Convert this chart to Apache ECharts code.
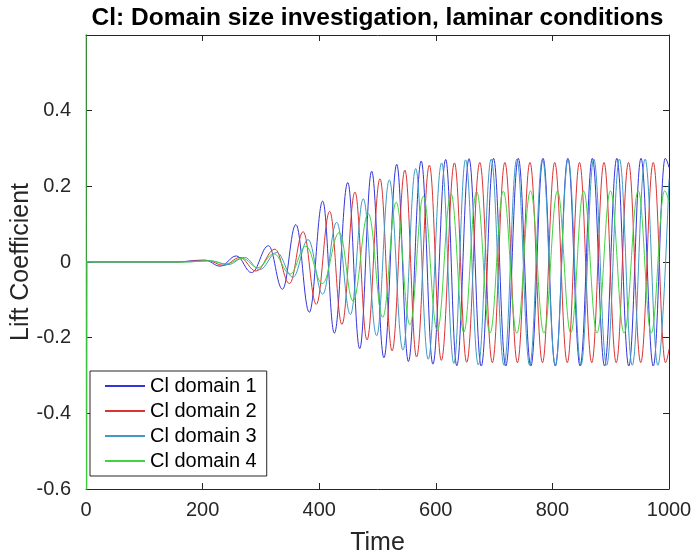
<!DOCTYPE html>
<html><head><meta charset="utf-8">
<script src="https://cdn.jsdelivr.net/npm/echarts@6/dist/echarts.min.js"></script>
<style>html,body{margin:0;padding:0;background:#fff}#c{width:693px;height:553px}</style>
</head><body><div id="c"></div>
<script>
const titleText = 'Cl: Domain size investigation, laminar conditions';
const xName = 'Time';
const yName = 'Lift Coefficient';
const seriesNames = ['Cl domain 1', 'Cl domain 2', 'Cl domain 3', 'Cl domain 4'];
const xTicks = [0, 200, 400, 600, 800, 1000];
const yTicks = [-0.6, -0.4, -0.2, 0, 0.2, 0.4];

// extrema: [time, Cl]
const domain1 = [[0,0],[150,0],[204,0.005],[230,-0.011],[258,0.016],[284,-0.028],[313,0.043],[337,-0.072],[360,0.099],[383,-0.133],[406,0.161],[426,-0.188],[449,0.21],[469.5,-0.229],[490,0.24],[511,-0.253],[533,0.258],[553,-0.263],[575,0.267],[595,-0.27],[617,0.271],[636,-0.274],[657,0.273],[678,-0.275],[699,0.274],[720,-0.275],[741.5,0.274],[763,-0.275],[784,0.274],[805,-0.275],[826.5,0.274],[847.5,-0.275],[868.5,0.274],[889.5,-0.275],[910.5,0.274],[931,-0.275],[952,0.274],[973,-0.275],[993.5,0.274],[1000,0.25]];
const domain2 = [[0,0],[150,0],[208,0.004],[236,-0.009],[264,0.012],[291.5,-0.024],[324,0.034],[349,-0.057],[372.5,0.08],[395,-0.112],[418,0.134],[439,-0.165],[461.4,0.185],[482,-0.206],[504.3,0.22],[525,-0.235],[547,0.243],[567,-0.251],[589,0.256],[609.5,-0.26],[632,0.262],[653,-0.265],[675.5,0.263],[697,-0.266],[718.5,0.263],[740,-0.266],[761.5,0.263],[783,-0.266],[804,0.263],[825.5,-0.266],[846.5,0.263],[867.5,-0.266],[888.5,0.263],[909.5,-0.266],[930.5,0.263],[951.5,-0.266],[973,0.263],[994,-0.266],[1000,-0.23]];
const domain3 = [[0,0],[160,0],[215,0.003],[243,-0.007],[272,0.012],[298,-0.02],[327,0.025],[355,-0.04],[381,0.059],[406,-0.085],[430,0.105],[453.5,-0.139],[475.6,0.167],[498.5,-0.195],[520.2,0.217],[543.7,-0.233],[565.5,0.247],[587,-0.257],[610,0.262],[631,-0.268],[651,0.27],[673,-0.272],[695,0.272],[717,-0.273],[739,0.272],[761,-0.273],[783,0.272],[805,-0.273],[827,0.272],[849,-0.273],[871,0.272],[893,-0.273],[915,0.272],[937,-0.273],[959,0.272],[981,-0.273],[1000,0.22]];
const domain4 = [[0,0.95],[1,-0.95],[2,0],[170,0],[212,0.003],[240,-0.005],[268,0.01],[295,-0.015],[322,0.022],[350,-0.032],[377,0.042],[405.5,-0.057],[434.6,0.078],[458,-0.103],[484.2,0.128],[509,-0.146],[532,0.158],[555.7,-0.166],[578.6,0.174],[602.6,-0.181],[626,0.181],[648,-0.186],[670,0.186],[693,-0.188],[715.7,0.187],[739,-0.188],[762.5,0.188],[785.5,-0.188],[808.7,0.188],[831.5,-0.188],[853.5,0.188],[876.5,-0.188],[899.5,0.188],[923,-0.188],[947.3,0.188],[969.5,-0.188],[992.5,0.188],[1000,0.16]];

const seriesData = [domain1, domain2, domain3, domain4];
const colors = ['#3434dc', '#dc3434', '#3f9ac6', '#40d440'];

const FONT = '"Liberation Sans", Arial, Helvetica, sans-serif';
const AX = '#262626';

const chart = echarts.init(document.getElementById('c'), null, {renderer: 'canvas'});

const baseX = {
  type: 'value', min: xTicks[0], max: xTicks[xTicks.length - 1], interval: xTicks[1] - xTicks[0],
  axisLine: {show: true, onZero: false, lineStyle: {color: AX, width: 1}},
  axisTick: {show: true, inside: true, length: 6, lineStyle: {color: AX}},
  splitLine: {show: false}
};
const baseY = {
  type: 'value', min: yTicks[0], max: 0.6, interval: yTicks[1] - yTicks[0],
  axisLine: {show: true, onZero: false, lineStyle: {color: AX, width: 1}},
  axisTick: {show: true, inside: true, length: 6, lineStyle: {color: AX}},
  splitLine: {show: false}
};

chart.setOption({
  animation: false,
  backgroundColor: '#fff',
  graphic: [{
    type: 'text', x: 377.5, y: 18, z: 10,
    style: {text: titleText, fontSize: 24.5, fontWeight: 'bold', fontFamily: FONT, fill: '#000', align: 'center', verticalAlign: 'middle'}
  }],
  grid: {left: 86, right: 24, top: 35, bottom: 64, containLabel: false, outerBoundsMode: 'none'},
  legend: {
    orient: 'vertical', left: 90, top: 371,
    data: seriesNames,
    itemWidth: 40, itemHeight: 20, itemGap: 5,
    padding: [5, 10, 5, 14],
    itemStyle: {opacity: 0},
    borderColor: AX, borderWidth: 1, backgroundColor: '#fff',
    textStyle: {fontSize: 20, color: '#000', fontFamily: FONT}
  },
  xAxis: [
    Object.assign({}, baseX, {
      position: 'bottom', name: xName, nameLocation: 'middle', nameGap: 42, nameMoveOverlap: false,
      nameTextStyle: {fontSize: 25, color: AX, fontFamily: FONT},
      axisLabel: {show: true, margin: 11, fontSize: 20, color: AX, fontFamily: FONT,
        formatter: function (v) { return String(v); }}
    }),
    Object.assign({}, baseX, {position: 'top', axisLabel: {show: false}})
  ],
  yAxis: [
    Object.assign({}, baseY, {
      position: 'left', name: yName, nameLocation: 'middle', nameGap: 52, nameRotate: 90, nameMoveOverlap: false,
      nameTextStyle: {fontSize: 25, color: AX, fontFamily: FONT},
      axisLabel: {show: true, margin: 15, fontSize: 20, color: AX, fontFamily: FONT,
        formatter: function (v) { return v > 0.5 ? '' : String(Math.round(v * 10) / 10); }}
    }),
    Object.assign({}, baseY, {position: 'right', axisLabel: {show: false}})
  ],
  series: seriesNames.map(function (name, i) {
    return {
      name: name, type: 'line', xAxisIndex: 0, yAxisIndex: 0,
      data: seriesData[i], showSymbol: false, symbol: 'none',
      smooth: 0.4, smoothMonotone: 'x', clip: true,
      lineStyle: {color: colors[i], width: 1}, itemStyle: {color: colors[i]},
      z: 2 + i
    };
  })
});
</script></body></html>
